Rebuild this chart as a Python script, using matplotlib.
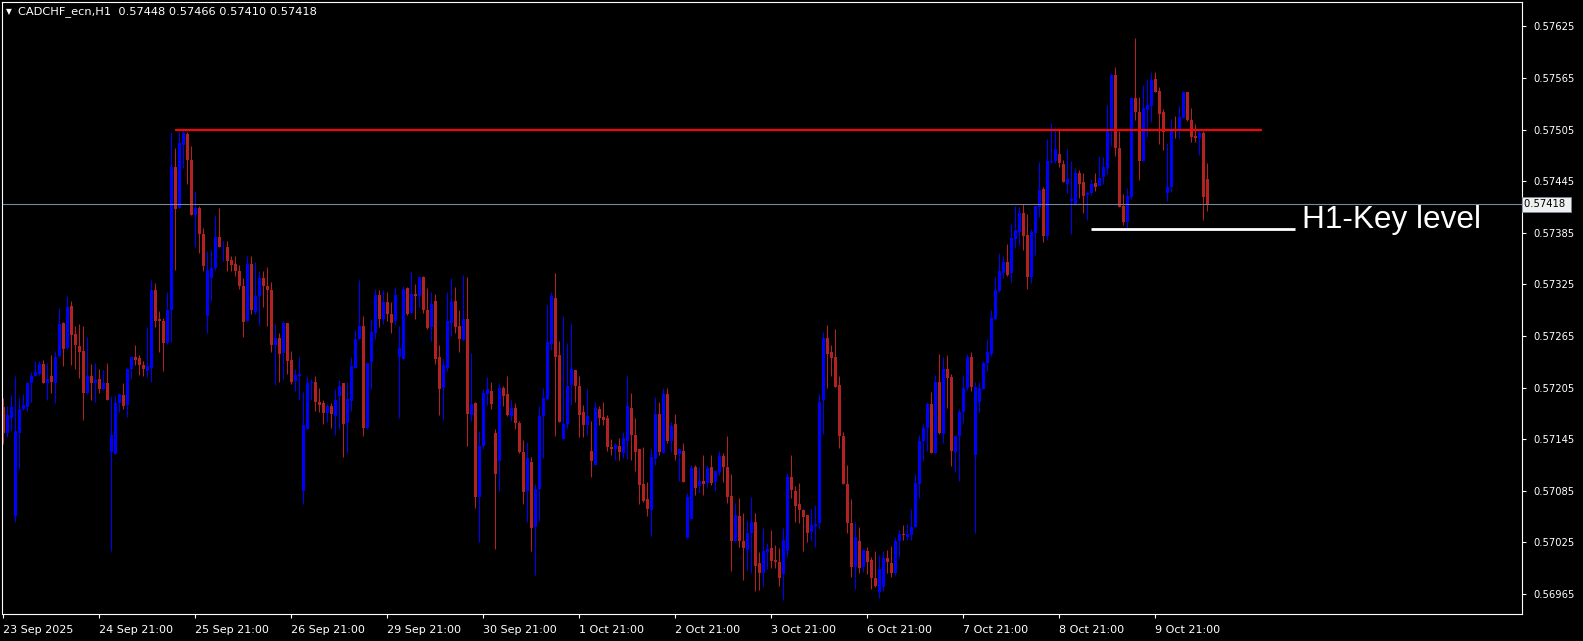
import matplotlib
matplotlib.use("Agg")
import matplotlib.pyplot as plt
import matplotlib.transforms as mtransforms
import numpy as np

# CADCHF H1 candles, prices in points (1e-5)
opens = [
    57182, 57152, 57170, 57056, 57152, 57180, 57182, 57210, 57218, 57221,
    57232, 57210, 57218, 57210, 57242, 57280, 57251, 57300, 57267, 57253,
    57247, 57199, 57218, 57210, 57215, 57203, 57210, 57130, 57128, 57187,
    57196, 57185, 57226, 57240, 57239, 57231, 57224, 57228, 57319, 57285,
    57282, 57257, 57295, 57462, 57414, 57487, 57500, 57470, 57406, 57414,
    57384, 57288, 57332, 57344, 57380, 57368, 57369, 57353, 57349, 57341,
    57323, 57282, 57349, 57293, 57312, 57332, 57323, 57319, 57254, 57263,
    57245, 57280, 57237, 57213, 57218, 57085, 57157, 57210, 57211, 57188,
    57187, 57175, 57184, 57172, 57195, 57210, 57164, 57189, 57228, 57261,
    57277, 57158, 57235, 57268, 57313, 57285, 57305, 57291, 57282, 57240,
    57238, 57321, 57292, 57314, 57311, 57333, 57295, 57275, 57306, 57240,
    57204, 57228, 57280, 57306, 57277, 57260, 57285, 57173, 57187, 57078,
    57137, 57198, 57201, 57152, 57120, 57204, 57197, 57172, 57181, 57164,
    57130, 57085, 57118, 57043, 57087, 57172, 57192, 57256, 57309, 57243,
    57145, 57163, 57208, 57225, 57207, 57176, 57162, 57131, 57115, 57180,
    57171, 57170, 57136, 57133, 57137, 57129, 57143, 57181, 57150, 57133,
    57093, 57075, 57063, 57122, 57174, 57129, 57197, 57143, 57163, 57128,
    57131, 57030, 57052, 57112, 57090, 57096, 57094, 57112, 57095, 57107,
    57125, 57112, 57079, 57027, 57055, 57027, 57016, 57036, 57049, 57001,
    56989, 57014, 57018, 57004, 57002, 56988, 57015, 57101, 57085, 57069,
    57063, 57057, 57037, 57044, 57047, 57190, 57263, 57246, 57240, 57208,
    57149, 57093, 57048, 56996, 57027, 56996, 57015, 57004, 56984, 56967,
    56973, 57007, 57001, 56989, 57026, 57035, 57031, 57034, 57043, 57093,
    57143, 57158, 57186, 57129, 57212, 57151, 57226, 57217, 57130, 57149,
    57176, 57204, 57241, 57126, 57188, 57203, 57234, 57244, 57285, 57317,
    57338, 57351, 57338, 57378, 57386, 57408, 57382, 57333, 57385, 57415,
    57436, 57381, 57467, 57468, 57477, 57465, 57442, 57422, 57419, 57455,
    57444, 57429, 57431, 57443, 57439, 57450, 57460, 57506, 57568, 57484,
    57416, 57397, 57427, 57542, 57525, 57468, 57528, 57533, 57564, 57550,
    57525, 57431, 57438, 57505, 57505, 57519, 57549, 57516, 57498, 57495,
    57501, 57448,
]
highs = [
    57193, 57184, 57196, 57218, 57193, 57198, 57211, 57223, 57236, 57236,
    57237, 57233, 57243, 57248, 57297, 57281, 57311, 57306, 57277, 57279,
    57277, 57264, 57232, 57233, 57227, 57225, 57234, 57195, 57196, 57198,
    57210, 57228, 57242, 57254, 57243, 57236, 57275, 57330, 57327, 57294,
    57286, 57316, 57502, 57484, 57502, 57503, 57502, 57486, 57434, 57416,
    57390, 57364, 57365, 57406, 57414, 57376, 57375, 57358, 57358, 57347,
    57332, 57358, 57358, 57351, 57340, 57340, 57345, 57328, 57279, 57268,
    57282, 57280, 57248, 57226, 57241, 57200, 57218, 57215, 57218, 57204,
    57190, 57186, 57187, 57203, 57214, 57210, 57212, 57240, 57272, 57330,
    57288, 57234, 57285, 57320, 57319, 57318, 57316, 57304, 57322, 57277,
    57323, 57322, 57339, 57325, 57334, 57335, 57321, 57316, 57314, 57254,
    57238, 57316, 57332, 57322, 57295, 57336, 57333, 57245, 57188, 57154,
    57203, 57217, 57211, 57157, 57210, 57207, 57218, 57191, 57187, 57166,
    57144, 57142, 57124, 57093, 57183, 57205, 57301, 57316, 57338, 57259,
    57288, 57257, 57280, 57225, 57218, 57185, 57203, 57166, 57188, 57183,
    57188, 57173, 57145, 57140, 57146, 57153, 57218, 57199, 57169, 57133,
    57136, 57095, 57133, 57194, 57188, 57205, 57204, 57165, 57174, 57135,
    57140, 57082, 57115, 57115, 57113, 57127, 57115, 57126, 57109, 57131,
    57129, 57149, 57105, 57071, 57077, 57059, 57051, 57078, 57059, 57014,
    57042, 57024, 57039, 57022, 57018, 57042, 57106, 57126, 57090, 57094,
    57064, 57057, 57064, 57068, 57197, 57270, 57278, 57255, 57273, 57218,
    57153, 57115, 57075, 57049, 57043, 57017, 57019, 57008, 57015, 57010,
    57015, 57016, 57021, 57031, 57039, 57045, 57046, 57064, 57105, 57150,
    57163, 57188, 57200, 57219, 57244, 57240, 57243, 57221, 57150, 57180,
    57219, 57244, 57246, 57211, 57211, 57236, 57261, 57295, 57333, 57361,
    57358, 57372, 57396, 57416, 57415, 57419, 57407, 57389, 57416, 57467,
    57438, 57494, 57513, 57508, 57504, 57470, 57482, 57468, 57460, 57458,
    57454, 57434, 57448, 57455, 57474, 57473, 57534, 57571, 57578, 57503,
    57430, 57437, 57543, 57612, 57543, 57557, 57564, 57572, 57572, 57554,
    57529, 57489, 57517, 57521, 57532, 57550, 57549, 57530, 57511, 57503,
    57503, 57466,
]
lows = [
    57139, 57147, 57154, 57049, 57110, 57179, 57178, 57188, 57218, 57219,
    57210, 57190, 57199, 57187, 57241, 57230, 57250, 57231, 57227, 57216,
    57167, 57198, 57191, 57188, 57199, 57202, 57191, 57015, 57128, 57177,
    57180, 57171, 57215, 57231, 57219, 57218, 57217, 57211, 57275, 57246,
    57224, 57256, 57258, 57342, 57414, 57460, 57442, 57406, 57369, 57362,
    57341, 57268, 57306, 57342, 57369, 57352, 57341, 57341, 57335, 57320,
    57264, 57282, 57290, 57291, 57278, 57299, 57277, 57246, 57208, 57211,
    57214, 57221, 57209, 57201, 57191, 57069, 57157, 57191, 57178, 57176,
    57163, 57165, 57158, 57150, 57157, 57124, 57129, 57178, 57228, 57261,
    57149, 57157, 57203, 57261, 57275, 57279, 57282, 57268, 57278, 57170,
    57238, 57289, 57292, 57285, 57299, 57292, 57273, 57259, 57232, 57173,
    57167, 57224, 57265, 57268, 57246, 57260, 57137, 57166, 57065, 57025,
    57133, 57185, 57180, 57017, 57085, 57184, 57172, 57166, 57157, 57129,
    57070, 57049, 57015, 56987, 57050, 57123, 57190, 57249, 57149, 57165,
    57145, 57158, 57185, 57188, 57147, 57147, 57150, 57101, 57115, 57161,
    57161, 57131, 57126, 57121, 57121, 57123, 57122, 57121, 57108, 57069,
    57072, 57056, 57032, 57115, 57126, 57129, 57140, 57130, 57121, 57096,
    57095, 57030, 57052, 57080, 57084, 57080, 57089, 57092, 57085, 57103,
    57095, 57071, 56992, 57025, 57019, 56981, 56993, 56989, 56968, 56969,
    56974, 56994, 56995, 56995, 56974, 56958, 57008, 57076, 57049, 57048,
    57015, 57025, 57027, 57019, 57041, 57151, 57204, 57218, 57206, 57135,
    57093, 57036, 56985, 56971, 56989, 56991, 56988, 56971, 56973, 56960,
    56968, 56989, 56985, 56987, 57008, 57028, 57028, 57028, 57043, 57076,
    57119, 57131, 57129, 57129, 57151, 57141, 57181, 57114, 57107, 57096,
    57164, 57202, 57201, 57036, 57176, 57203, 57224, 57242, 57284, 57316,
    57332, 57335, 57328, 57367, 57371, 57365, 57320, 57327, 57359, 57403,
    57374, 57377, 57466, 57466, 57461, 57444, 57431, 57383, 57417, 57426,
    57408, 57400, 57429, 57434, 57439, 57442, 57453, 57486, 57474, 57415,
    57394, 57391, 57424, 57516, 57446, 57468, 57496, 57514, 57549, 57488,
    57481, 57422, 57432, 57495, 57495, 57519, 57515, 57491, 57491, 57475,
    57400, 57410,
]
closes = [
    57152, 57173, 57182, 57154, 57180, 57185, 57210, 57218, 57223, 57232,
    57210, 57215, 57211, 57241, 57279, 57250, 57299, 57266, 57254, 57246,
    57199, 57218, 57210, 57214, 57203, 57210, 57191, 57150, 57187, 57198,
    57184, 57227, 57240, 57237, 57231, 57226, 57230, 57318, 57282, 57282,
    57257, 57295, 57462, 57413, 57489, 57501, 57470, 57406, 57414, 57384,
    57346, 57342, 57344, 57380, 57369, 57369, 57352, 57348, 57340, 57323,
    57281, 57349, 57295, 57312, 57332, 57323, 57319, 57254, 57263, 57244,
    57280, 57236, 57212, 57220, 57221, 57162, 57210, 57211, 57188, 57185,
    57175, 57184, 57174, 57191, 57207, 57163, 57192, 57230, 57262, 57277,
    57158, 57234, 57270, 57313, 57285, 57305, 57291, 57280, 57313, 57251,
    57320, 57291, 57314, 57311, 57333, 57295, 57274, 57302, 57238, 57203,
    57231, 57282, 57305, 57275, 57261, 57285, 57174, 57186, 57078, 57137,
    57199, 57203, 57186, 57105, 57205, 57195, 57173, 57181, 57164, 57130,
    57084, 57123, 57042, 57087, 57172, 57193, 57258, 57311, 57240, 57165,
    57163, 57207, 57226, 57207, 57173, 57162, 57172, 57120, 57181, 57169,
    57167, 57136, 57134, 57138, 57130, 57146, 57183, 57150, 57130, 57092,
    57073, 57064, 57124, 57174, 57130, 57197, 57143, 57160, 57126, 57133,
    57095, 57078, 57111, 57088, 57096, 57093, 57111, 57094, 57108, 57125,
    57112, 57078, 57026, 57057, 57027, 57018, 57036, 57049, 56998, 56989,
    57015, 57017, 57003, 57002, 56984, 57028, 57101, 57086, 57067, 57062,
    57054, 57036, 57045, 57046, 57188, 57263, 57244, 57239, 57206, 57149,
    57093, 57047, 56996, 57031, 56995, 57016, 57002, 56984, 56974, 56994,
    57007, 57002, 56989, 57027, 57035, 57033, 57035, 57043, 57094, 57143,
    57158, 57186, 57129, 57212, 57152, 57227, 57216, 57131, 57149, 57177,
    57205, 57241, 57206, 57206, 57204, 57233, 57246, 57286, 57319, 57340,
    57351, 57336, 57379, 57388, 57408, 57381, 57333, 57386, 57416, 57435,
    57381, 57469, 57468, 57482, 57466, 57444, 57448, 57424, 57455, 57442,
    57428, 57431, 57442, 57438, 57449, 57462, 57506, 57568, 57484, 57415,
    57397, 57428, 57542, 57525, 57468, 57530, 57534, 57563, 57549, 57523,
    57502, 57438, 57503, 57504, 57520, 57549, 57516, 57496, 57495, 57501,
    57427, 57418,
]

date_labels = ['23 Sep 2025', '24 Sep 21:00', '25 Sep 21:00', '26 Sep 21:00',
               '29 Sep 21:00', '30 Sep 21:00', '1 Oct 21:00', '2 Oct 21:00',
               '3 Oct 21:00', '6 Oct 21:00', '7 Oct 21:00', '8 Oct 21:00',
               '9 Oct 21:00']
bars_per_label = 24
price_ticks = [0.56965, 0.57025, 0.57085, 0.57145, 0.57205, 0.57265,
               0.57325, 0.57385, 0.57445, 0.57505, 0.57565, 0.57625]
resistance = 0.57505
key_level = 0.57389
bid = 0.57418
title = 'CADCHF_ecn,H1  0.57448 0.57466 0.57410 0.57418'

o = np.array(opens) / 1e5
h = np.array(highs) / 1e5
l = np.array(lows) / 1e5
c = np.array(closes) / 1e5
x = np.arange(len(o))

W, H = 1583, 641
fig = plt.figure(figsize=(W / 100, H / 100), dpi=100, facecolor='black')
ax = fig.add_axes([2 / W, 27 / H, 1520 / W, 612 / H], facecolor='black')

up = c >= o
col = np.where(up, '#0000FF', '#B22222')
ax.vlines(x, l, h, colors=col, linewidth=0.75)
body_lo = np.minimum(o, c)
body_h = np.maximum(np.abs(c - o), 0.00001)
ax.bar(x, body_h, bottom=body_lo, width=0.75, color=col, linewidth=0)

# levels
ax.axhline(bid, color='#778899', linewidth=0.8)
ax.hlines(resistance, 42.9, 314.7, color='#FF0000', linewidth=1.5)
ax.hlines(key_level, 271.9, 322.9, color='white', linewidth=2.0)
ax.text(324.7, 0.57400, 'H1-Key level', color='white', fontsize=22.7,
        family=['Liberation Sans', 'DejaVu Sans'], va='center', ha='left')

ax.set_xlim(-0.325, 379.7)
ax.set_ylim(0.569416, 0.576534)

# price axis on the right
ax.yaxis.tick_right()
ax.set_yticks(price_ticks)
ax.set_yticklabels(['%.5f' % p for p in price_ticks])
ax.tick_params(axis='y', colors='white', labelsize=7.2, length=3, pad=5)

# time axis
ax.set_xticks(np.arange(len(date_labels)) * bars_per_label)
ax.set_xticklabels(date_labels)
for t in ax.get_xticklabels():
    t.set_horizontalalignment('left')
ax.tick_params(axis='x', colors='white', labelsize=8, length=3, pad=5)

for s in ax.spines.values():
    s.set_color('white')
    s.set_linewidth(0.8)

# bid price box on the axis
trans = mtransforms.blended_transform_factory(ax.transAxes, ax.transData)
ax.text(1.0015, bid, '0.57418 ', transform=trans, fontsize=7.2, color='black',
        va='center', ha='left',
        bbox=dict(boxstyle='square,pad=0.25', facecolor='#F0F0F0',
                  edgecolor='#778899', linewidth=0.6))

fig.text(6 / W, 1 - 12 / H, '\u25bc', color='white', fontsize=5.5, va='center')
fig.text(18 / W, 1 - 12 / H, title, color='white', fontsize=8.2, va='center')

fig.savefig('out.png', dpi=100, facecolor='black')
